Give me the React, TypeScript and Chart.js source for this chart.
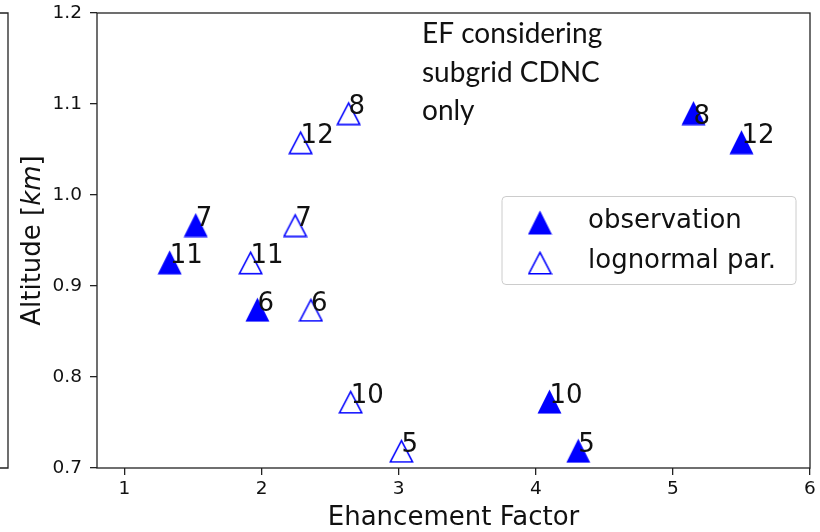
import { useEffect, useRef } from "react";
import { Chart, registerables } from "chart.js";

Chart.register(...registerables);

// Case numbers shown next to each marker
const CASE_IDS = ["8", "12", "7", "11", "6", "10", "5"];

// Cloud-base altitude of each case (km)
const ALTITUDE = [1.09, 1.058, 0.967, 0.926, 0.874, 0.773, 0.719];

// Enhancement factor from observed spectra
const OBS_EF = [5.15, 5.5, 1.52, 1.33, 1.97, 4.1, 4.31];
// Altitude at which each observation label is written
const OBS_LABEL_ALT = [1.079, 1.058, 0.967, 0.926, 0.874, 0.773, 0.719];

// Enhancement factor from the lognormal parameterisation
const LOGN_EF = [2.635, 2.285, 2.245, 1.92, 2.36, 2.65, 3.02];

const X_TICKS = [1, 2, 3, 4, 5, 6];
const Y_TICKS = [0.7, 0.8, 0.9, 1.0, 1.1, 1.2];

const SERIES_NAMES = ["observation", "lognormal par."];
const NOTE_LINES = ["EF considering", "subgrid CDNC", "only"];
const X_TITLE = "Ehancement Factor";

const BLUE = "#0000ff";
const INK = "#111111";
const FRAME = "#222222";
const FONT = "'DejaVu Sans', sans-serif";

function makeTriangle(filled: boolean): HTMLCanvasElement {
  const c = document.createElement("canvas");
  c.width = 25;
  c.height = 25;
  const g = c.getContext("2d")!;
  g.beginPath();
  if (filled) {
    g.moveTo(12.5, 0.5);
    g.lineTo(24.5, 24.5);
    g.lineTo(0.5, 24.5);
    g.closePath();
    g.fillStyle = BLUE;
    g.fill();
  } else {
    g.moveTo(12.5, 2.4);
    g.lineTo(23.6, 23.7);
    g.lineTo(1.4, 23.7);
    g.closePath();
    g.strokeStyle = BLUE;
    g.lineWidth = 1.6;
    g.stroke();
  }
  return c;
}

export default function App() {
  const canvasRef = useRef<HTMLCanvasElement | null>(null);

  useEffect(() => {
    document.body.style.margin = "0";
    const canvas = canvasRef.current;
    if (!canvas) return;

    const filledTri = makeTriangle(true);
    const openTri = makeTriangle(false);

    const decorations = {
      id: "decorations",
      afterDatasetsDraw(chart: any) {
        const { ctx, chartArea: ca, scales } = chart;
        const xs = scales.x;
        const ys = scales.y;
        ctx.save();

        // frame around the plotting area
        ctx.strokeStyle = FRAME;
        ctx.lineWidth = 1.3;
        ctx.strokeRect(ca.left, ca.top, ca.right - ca.left, ca.bottom - ca.top);

        // edge of the neighbouring panel
        ctx.beginPath();
        ctx.moveTo(-2, ca.top);
        ctx.lineTo(8, ca.top);
        ctx.lineTo(8, ca.bottom);
        ctx.lineTo(-2, ca.bottom);
        ctx.stroke();

        // case numbers
        ctx.fillStyle = INK;
        ctx.font = `26px ${FONT}`;
        ctx.textAlign = "left";
        ctx.textBaseline = "alphabetic";
        CASE_IDS.forEach((id, i) => {
          ctx.fillText(id, xs.getPixelForValue(OBS_EF[i]), ys.getPixelForValue(OBS_LABEL_ALT[i]) + 1);
          ctx.fillText(id, xs.getPixelForValue(LOGN_EF[i]), ys.getPixelForValue(ALTITUDE[i]) + 1);
        });

        // note in the upper middle
        ctx.font = `28px Lato, 'Open Sans', sans-serif`;
        NOTE_LINES.forEach((line, i) => {
          ctx.fillText(line, ca.left + 325, ca.top + 30 + i * 38.5);
        });

        // legend (centre right)
        const boxW = 294;
        const boxH = 88;
        const bx = ca.right - 14 - boxW;
        const by = (ca.top + ca.bottom) / 2 - boxH / 2;
        ctx.beginPath();
        ctx.roundRect(bx, by, boxW, boxH, 4);
        ctx.fillStyle = "rgba(255,255,255,0.8)";
        ctx.fill();
        ctx.strokeStyle = "#cccccc";
        ctx.lineWidth = 1;
        ctx.stroke();
        const markers = [filledTri, openTri];
        ctx.font = `26px ${FONT}`;
        ctx.fillStyle = INK;
        SERIES_NAMES.forEach((name, i) => {
          const cy = by + 26 + i * 40;
          ctx.drawImage(markers[i], bx + 38 - 12.5, cy - 12.5);
          ctx.fillText(name, bx + 86, cy + 5.5);
        });

        // x-axis title
        ctx.textAlign = "center";
        ctx.fillText(X_TITLE, (ca.left + ca.right) / 2, ca.bottom + 57);

        // y-axis title with italic unit
        const parts: [string, string][] = [
          ["Altitude [", `26px ${FONT}`],
          ["km", `oblique 26px ${FONT}`],
          ["]", `26px ${FONT}`],
        ];
        let total = 0;
        const widths = parts.map(([t, f]) => {
          ctx.font = f;
          const w = ctx.measureText(t).width;
          total += w;
          return w;
        });
        ctx.translate(40, (ca.top + ca.bottom) / 2);
        ctx.rotate(-Math.PI / 2);
        ctx.textAlign = "left";
        let px = -total / 2;
        parts.forEach(([t, f], i) => {
          ctx.font = f;
          ctx.fillText(t, px, 0);
          px += widths[i];
        });

        ctx.restore();
      },
    };

    const chart = new Chart(canvas, {
      type: "scatter",
      data: {
        datasets: [
          {
            label: SERIES_NAMES[0],
            data: OBS_EF.map((x, i) => ({ x, y: ALTITUDE[i] })),
            pointStyle: filledTri as any,
            pointRadius: 12,
            pointHoverRadius: 12,
          },
          {
            label: SERIES_NAMES[1],
            data: LOGN_EF.map((x, i) => ({ x, y: ALTITUDE[i] })),
            pointStyle: openTri as any,
            pointRadius: 12,
            pointHoverRadius: 12,
          },
        ],
      },
      options: {
        responsive: false,
        animation: false,
        layout: { autoPadding: false, padding: { top: 13, right: 10, left: 0, bottom: 0 } },
        plugins: {
          legend: { display: false },
          tooltip: { enabled: false },
        },
        scales: {
          x: {
            type: "linear",
            min: 0.8,
            max: 6,
            afterBuildTicks: (s: any) => {
              s.ticks = X_TICKS.map((v) => ({ value: v }));
            },
            afterFit: (s: any) => {
              s.height = 64;
              s.paddingLeft = 0;
              s.paddingRight = 0;
            },
            border: { display: false },
            grid: {
              drawOnChartArea: false,
              drawTicks: true,
              tickLength: 7,
              color: FRAME,
              lineWidth: 1.3,
            },
            ticks: {
              color: INK,
              font: { family: FONT, size: 18.5 },
              padding: 3,
              maxRotation: 0,
              callback: (v: any) => String(v),
            },
          },
          y: {
            type: "linear",
            min: 0.7,
            max: 1.2,
            afterBuildTicks: (s: any) => {
              s.ticks = Y_TICKS.map((v) => ({ value: v }));
            },
            afterFit: (s: any) => {
              s.width = 97;
              s.paddingTop = 0;
              s.paddingBottom = 0;
            },
            border: { display: false },
            grid: {
              drawOnChartArea: false,
              drawTicks: true,
              tickLength: 7,
              color: FRAME,
              lineWidth: 1.3,
            },
            ticks: {
              color: INK,
              font: { family: FONT, size: 18.5 },
              padding: 8,
              callback: (v: any) => Number(v).toFixed(1),
            },
          },
        },
      },
      plugins: [decorations],
    });

    return () => chart.destroy();
  }, []);

  return (
    <div style={{ width: 820, height: 532 }}>
      <canvas ref={canvasRef} width={820} height={532} />
    </div>
  );
}
